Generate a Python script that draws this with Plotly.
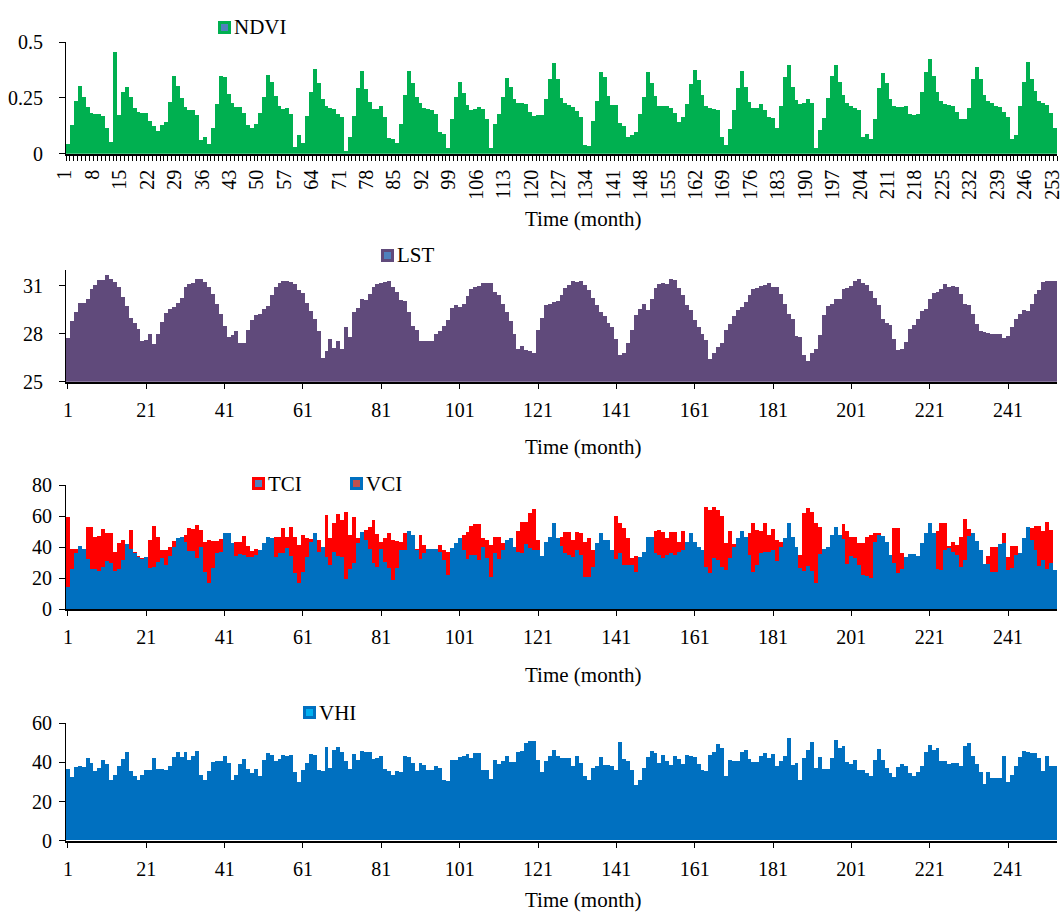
import plotly.graph_objects as go

months = list(range(1, 254))

ndvi = [
    0.043, 0.128, 0.237, 0.303, 0.252, 0.207, 0.180, 0.178, 0.176, 0.168,
    0.116, 0.054, 0.457, 0.175, 0.276, 0.297, 0.252, 0.206, 0.187, 0.180,
    0.182, 0.145, 0.124, 0.100, 0.130, 0.142, 0.233, 0.348, 0.303, 0.248,
    0.209, 0.196, 0.196, 0.173, 0.060, 0.076, 0.042, 0.113, 0.224, 0.349,
    0.342, 0.267, 0.228, 0.210, 0.210, 0.180, 0.130, 0.116, 0.134, 0.180,
    0.255, 0.354, 0.322, 0.260, 0.213, 0.200, 0.203, 0.176, 0.031, 0.085,
    0.046, 0.168, 0.275, 0.378, 0.315, 0.245, 0.213, 0.203, 0.199, 0.176,
    0.166, 0.013, 0.075, 0.168, 0.294, 0.370, 0.288, 0.230, 0.200, 0.200,
    0.213, 0.163, 0.070, 0.066, 0.046, 0.133, 0.263, 0.370, 0.315, 0.255,
    0.228, 0.203, 0.199, 0.196, 0.178, 0.099, 0.088, 0.024, 0.155, 0.252,
    0.319, 0.270, 0.216, 0.196, 0.199, 0.210, 0.199, 0.155, 0.027, 0.133,
    0.178, 0.252, 0.337, 0.297, 0.246, 0.228, 0.228, 0.222, 0.185, 0.169,
    0.173, 0.172, 0.243, 0.334, 0.404, 0.336, 0.251, 0.225, 0.218, 0.207,
    0.193, 0.163, 0.037, 0.036, 0.146, 0.237, 0.366, 0.345, 0.258, 0.218,
    0.216, 0.139, 0.124, 0.073, 0.084, 0.099, 0.176, 0.255, 0.366, 0.315,
    0.260, 0.215, 0.213, 0.213, 0.206, 0.181, 0.140, 0.163, 0.222, 0.310,
    0.375, 0.330, 0.263, 0.213, 0.203, 0.199, 0.196, 0.076, 0.039, 0.112,
    0.196, 0.296, 0.370, 0.297, 0.233, 0.203, 0.206, 0.222, 0.196, 0.166,
    0.158, 0.116, 0.213, 0.345, 0.396, 0.297, 0.240, 0.221, 0.228, 0.243,
    0.225, 0.027, 0.106, 0.161, 0.251, 0.349, 0.396, 0.322, 0.263, 0.225,
    0.213, 0.206, 0.196, 0.076, 0.087, 0.067, 0.155, 0.296, 0.363, 0.315,
    0.243, 0.215, 0.210, 0.210, 0.213, 0.178, 0.175, 0.176, 0.275, 0.367,
    0.422, 0.348, 0.275, 0.237, 0.221, 0.219, 0.213, 0.188, 0.154, 0.155,
    0.206, 0.333, 0.390, 0.333, 0.263, 0.236, 0.225, 0.213, 0.210, 0.188,
    0.166, 0.064, 0.084, 0.213, 0.319, 0.409, 0.333, 0.281, 0.236, 0.225,
    0.218, 0.184, 0.116,
]

lst = [
    27.71, 28.81, 29.38, 29.96, 29.96, 30.21, 30.83, 31.08, 31.35, 31.35,
    31.71, 31.42, 31.25, 30.94, 30.31, 29.75, 29.02, 28.71, 28.33, 27.56,
    27.60, 27.98, 27.35, 27.98, 28.75, 29.31, 29.58, 29.69, 29.94, 30.27,
    30.94, 31.15, 31.21, 31.46, 31.42, 31.25, 30.94, 30.52, 29.90, 29.23,
    28.48, 27.81, 27.92, 28.19, 27.44, 27.44, 28.23, 28.85, 29.17, 29.23,
    29.58, 29.75, 30.42, 30.94, 31.19, 31.31, 31.31, 31.25, 31.15, 30.77,
    30.58, 29.94, 29.44, 28.96, 28.19, 26.46, 26.92, 27.65, 27.13, 27.54,
    27.02, 28.44, 27.81, 29.38, 29.63, 30.21, 30.10, 30.52, 30.94, 31.10,
    31.21, 31.25, 31.29, 30.94, 30.63, 30.15, 30.06, 29.38, 28.48, 28.27,
    27.56, 27.56, 27.54, 27.56, 27.98, 28.19, 28.50, 28.85, 29.65, 29.79,
    29.69, 29.90, 30.35, 30.79, 30.94, 30.98, 31.19, 31.19, 31.19, 30.63,
    30.42, 29.90, 29.38, 28.81, 28.02, 27.02, 27.23, 26.98, 26.92, 26.77,
    28.27, 29.02, 29.79, 29.90, 30.00, 30.06, 30.42, 30.90, 31.04, 31.31,
    31.25, 31.31, 31.04, 30.73, 30.27, 29.79, 29.38, 29.10, 28.69, 28.40,
    27.65, 26.67, 26.81, 27.44, 28.27, 29.17, 29.58, 29.85, 29.48, 30.21,
    30.90, 31.10, 31.19, 31.15, 31.42, 31.35, 30.90, 30.42, 29.79, 29.48,
    28.85, 28.40, 27.98, 27.60, 26.42, 26.77, 27.19, 27.40, 28.25, 28.60,
    29.10, 29.50, 29.69, 30.00, 30.42, 30.83, 30.90, 30.98, 31.04, 31.19,
    30.94, 30.94, 30.48, 29.90, 29.23, 28.92, 27.85, 27.81, 26.67, 26.31,
    26.81, 27.08, 27.92, 29.17, 29.73, 29.90, 30.21, 30.21, 30.83, 30.90,
    30.98, 31.31, 31.42, 31.19, 31.08, 30.69, 30.27, 29.79, 28.96, 28.65,
    28.54, 27.65, 26.98, 27.08, 27.50, 28.33, 28.54, 28.92, 29.42, 29.58,
    30.21, 30.56, 30.63, 30.83, 31.15, 30.94, 31.00, 30.94, 30.52, 29.90,
    29.79, 29.27, 28.60, 28.19, 28.13, 28.06, 28.02, 27.98, 27.98, 27.77,
    27.85, 28.40, 28.90, 29.23, 29.48, 29.42, 29.85, 30.48, 30.77, 31.25,
    31.31, 31.31, 31.31,
]

tci = [
    59.6, 38.8, 38.8, 37.0, 35.0, 52.8, 53.2, 46.8, 47.2, 51.5,
    48.9, 48.9, 37.1, 42.5, 44.6, 40.0, 51.0, 37.1, 34.3, 32.8,
    30.0, 44.6, 53.6, 46.8, 38.2, 38.2, 39.9, 44.0, 42.0, 44.0,
    47.8, 52.1, 51.5, 54.3, 51.0, 43.5, 44.6, 44.2, 44.2, 45.0,
    44.0, 44.0, 38.0, 43.5, 43.5, 47.4, 40.8, 37.8, 38.8, 34.0,
    38.0, 42.0, 41.0, 46.8, 46.8, 52.1, 46.8, 52.8, 46.8, 41.4,
    47.8, 45.7, 45.0, 44.0, 44.6, 36.0, 60.7, 45.7, 55.3, 61.3,
    57.5, 62.8, 47.8, 59.6, 45.7, 46.0, 51.0, 52.8, 57.5, 48.5,
    43.5, 45.7, 48.9, 44.6, 44.2, 43.5, 48.9, 46.0, 44.0, 38.5,
    47.8, 41.4, 35.0, 35.0, 35.0, 41.4, 38.2, 37.1, 35.0, 38.0,
    41.0, 47.8, 50.0, 53.6, 54.9, 54.9, 45.7, 44.6, 41.4, 46.8,
    46.8, 42.9, 40.0, 41.0, 36.0, 50.6, 56.4, 56.4, 61.8, 64.4,
    44.6, 30.0, 39.0, 42.0, 50.0, 41.0, 46.8, 50.0, 50.0, 44.6,
    50.0, 48.9, 43.5, 45.7, 38.2, 38.0, 44.0, 40.0, 40.0, 36.0,
    60.1, 55.8, 52.1, 45.7, 32.8, 34.3, 29.0, 33.0, 42.0, 42.0,
    50.6, 51.1, 50.0, 45.7, 50.0, 50.0, 43.5, 50.6, 39.0, 45.0,
    39.0, 36.0, 34.0, 65.6, 63.9, 65.6, 63.9, 60.0, 42.5, 50.6,
    42.0, 42.0, 46.0, 42.0, 48.9, 55.8, 51.1, 50.6, 55.3, 47.8,
    51.5, 44.6, 43.5, 42.0, 50.0, 43.0, 36.0, 35.0, 61.8, 65.0,
    62.8, 55.8, 52.8, 35.0, 36.0, 44.0, 49.0, 44.0, 54.9, 50.6,
    46.8, 46.8, 42.9, 42.9, 46.8, 47.8, 49.3, 49.3, 44.0, 40.0,
    31.0, 52.1, 52.1, 36.0, 30.0, 31.0, 31.0, 30.0, 38.0, 45.0,
    50.0, 45.0, 50.6, 55.8, 55.8, 40.8, 43.5, 41.4, 46.8, 57.9,
    51.5, 45.0, 40.0, 34.0, 26.0, 34.3, 40.3, 40.3, 36.8, 48.9,
    33.5, 40.8, 40.8, 32.0, 41.0, 48.0, 52.1, 53.6, 53.6, 50.6,
    56.4, 51.1, 24.0,
]

vci = [
    14.2, 25.7, 36.0, 40.8, 38.6, 32.2, 25.7, 25.7, 24.9, 27.0,
    31.1, 29.6, 24.9, 25.7, 31.7, 42.0, 38.6, 36.0, 33.5, 32.2,
    33.5, 26.4, 27.5, 30.7, 33.2, 28.5, 34.3, 40.0, 46.0, 46.8,
    43.5, 37.8, 37.8, 32.8, 39.9, 24.2, 16.7, 26.4, 36.0, 37.1,
    48.9, 48.9, 42.9, 34.3, 35.6, 35.0, 33.5, 33.5, 35.0, 38.2,
    42.9, 46.8, 45.7, 33.5, 36.0, 36.0, 39.3, 34.3, 23.2, 16.7,
    24.2, 33.5, 43.5, 48.9, 37.1, 39.9, 33.5, 28.5, 37.1, 34.3,
    33.5, 19.3, 25.7, 29.6, 42.5, 50.0, 44.6, 38.6, 29.6, 27.5,
    38.6, 30.7, 26.4, 18.9, 26.8, 38.2, 38.2, 50.6, 47.8, 38.2,
    32.2, 36.0, 38.6, 38.6, 38.6, 37.1, 31.7, 22.1, 39.3, 42.5,
    45.7, 38.2, 32.2, 35.0, 35.0, 31.7, 40.3, 32.8, 20.6, 36.5,
    32.2, 38.2, 44.6, 45.7, 39.9, 37.1, 36.5, 42.0, 39.3, 38.2,
    38.2, 34.3, 43.5, 46.8, 55.8, 45.7, 40.8, 36.0, 35.0, 33.5,
    38.2, 35.0, 21.0, 21.0, 27.5, 42.9, 49.3, 44.6, 44.6, 38.2,
    32.2, 36.0, 28.5, 28.5, 28.5, 24.2, 33.5, 37.1, 46.8, 46.8,
    36.0, 35.0, 32.8, 35.0, 36.5, 35.0, 37.1, 38.2, 43.5, 49.3,
    43.5, 40.3, 38.2, 27.5, 23.2, 32.8, 31.7, 27.0, 25.0, 32.8,
    40.0, 46.0, 50.6, 46.8, 35.0, 24.2, 28.5, 36.0, 37.1, 37.1,
    38.2, 31.3, 39.9, 45.7, 55.8, 46.8, 39.9, 26.4, 24.9, 27.9,
    24.9, 17.2, 35.6, 38.6, 39.9, 47.8, 53.2, 47.8, 45.0, 29.2,
    34.3, 32.8, 28.5, 22.1, 21.5, 19.9, 43.5, 47.8, 47.2, 43.5,
    35.0, 29.6, 23.2, 25.7, 33.5, 35.6, 35.6, 34.3, 42.9, 49.3,
    55.8, 49.3, 25.7, 25.3, 38.2, 39.3, 37.1, 35.0, 27.5, 31.7,
    47.2, 49.3, 44.2, 38.2, 29.2, 29.2, 24.2, 24.2, 42.0, 42.9,
    25.3, 26.4, 35.0, 36.0, 45.7, 53.2, 44.6, 38.2, 27.9, 31.7,
    25.7, 29.9, 25.5,
]

vhi = [
    36.7, 32.4, 37.3, 37.8, 37.5, 42.1, 39.6, 35.6, 37.0, 41.3,
    39.2, 30.7, 33.6, 37.8, 41.6, 45.0, 35.6, 32.7, 31.0, 33.2,
    36.1, 35.8, 42.1, 36.5, 36.5, 35.8, 37.8, 42.5, 45.0, 42.6,
    45.0, 41.3, 43.3, 45.5, 33.6, 30.7, 35.3, 39.9, 40.7, 40.7,
    43.3, 39.6, 31.0, 33.6, 39.0, 41.8, 36.5, 34.4, 36.7, 32.7,
    41.3, 44.7, 43.8, 40.4, 41.6, 43.8, 43.3, 43.8, 34.8, 29.7,
    35.8, 39.6, 44.3, 43.8, 35.8, 35.3, 47.7, 37.0, 46.0, 47.6,
    45.0, 40.4, 36.7, 44.3, 40.9, 45.9, 45.2, 45.2, 41.6, 42.1,
    43.0, 36.5, 35.6, 33.6, 35.3, 35.0, 43.0, 42.6, 39.6, 35.3,
    39.6, 38.4, 36.1, 36.1, 38.2, 37.0, 31.0, 30.2, 40.9, 41.3,
    42.6, 43.0, 44.2, 42.1, 44.7, 44.7, 36.1, 36.1, 31.4, 41.3,
    39.2, 40.4, 43.0, 40.1, 40.1, 45.0, 45.5, 49.8, 50.6, 50.6,
    41.3, 34.8, 40.4, 43.3, 46.0, 43.0, 42.1, 42.1, 42.1, 37.8,
    43.0, 39.6, 32.7, 31.0, 37.0, 37.8, 42.6, 38.7, 38.7, 37.8,
    36.1, 50.1, 41.6, 40.4, 35.8, 28.5, 31.0, 37.0, 42.6, 45.9,
    44.7, 39.6, 43.8, 40.4, 38.7, 43.0, 41.6, 39.2, 43.5, 43.0,
    42.6, 39.0, 35.8, 35.3, 43.8, 45.0, 49.3, 47.2, 32.7, 41.3,
    40.4, 40.4, 45.0, 46.0, 41.6, 40.1, 40.1, 43.0, 44.7, 42.1,
    44.3, 37.8, 40.4, 43.0, 52.3, 38.7, 39.6, 31.0, 42.1, 46.4,
    50.3, 37.0, 42.5, 36.7, 36.7, 42.1, 51.2, 47.2, 48.1, 40.1,
    39.0, 40.9, 35.8, 35.8, 34.4, 32.7, 41.3, 46.7, 40.9, 37.0,
    34.4, 32.4, 37.5, 39.2, 38.2, 34.4, 33.1, 34.8, 38.2, 45.2,
    48.9, 46.4, 47.2, 40.4, 40.4, 39.0, 39.6, 39.6, 37.8, 48.4,
    49.8, 43.0, 39.2, 34.8, 28.8, 35.0, 31.9, 31.9, 31.9, 43.3,
    29.7, 33.6, 37.8, 42.5, 45.5, 45.0, 44.7, 44.7, 42.1, 35.6,
    43.0, 37.8, 37.8,
]

ndvi_ticks = list(range(1, 254, 7))
other_ticks = list(range(1, 254, 20))

W, H = 1064, 912
FONT = "Liberation Serif, Times New Roman, serif"
GREEN = "#00B050"
PURPLE = "#604A7B"
RED = "#FF0000"
BLUE = "#0070C0"


def px(x):
    return x / W


def py(y):
    return 1 - y / H


fig = go.Figure()
fig.add_trace(go.Bar(x=months, y=ndvi, name="NDVI", xaxis="x", yaxis="y",
                     marker=dict(color=GREEN, line=dict(width=0))))
fig.add_trace(go.Bar(x=months, y=lst, name="LST", xaxis="x2", yaxis="y2", base=0,
                     marker=dict(color=PURPLE, line=dict(width=0))))
fig.add_trace(go.Bar(x=months, y=tci, name="TCI", xaxis="x3", yaxis="y3",
                     marker=dict(color=RED, line=dict(width=0))))
fig.add_trace(go.Bar(x=months, y=vci, name="VCI", xaxis="x3", yaxis="y3",
                     marker=dict(color=BLUE, line=dict(width=0))))
fig.add_trace(go.Bar(x=months, y=vhi, name="VHI", xaxis="x4", yaxis="y4",
                     marker=dict(color=BLUE, line=dict(width=0))))

xdom = [px(66), px(1057)]
tickfont = dict(family=FONT, size=20, color="black")


def xaxis_common(anchor):
    return dict(domain=xdom, anchor=anchor, range=[0.5, 253.5], showgrid=False,
                zeroline=False, showline=True, linecolor="black", linewidth=2,
                tickfont=tickfont, automargin=False, ticklabeloverflow="allow")


def yaxis_common(anchor, top, bottom, rng, vals, texts, standoff):
    return dict(domain=[py(bottom), py(top)], anchor=anchor, range=rng,
                tickmode="array", tickvals=vals, ticktext=texts, ticks="outside",
                ticklen=6, tickcolor="black", showline=True, linecolor="black",
                linewidth=1, showgrid=False, zeroline=False, tickfont=tickfont,
                ticklabelstandoff=standoff, automargin=False)


x1 = xaxis_common("y")
x1.update(tickmode="array", tickvals=ndvi_ticks, ticktext=[str(v) for v in ndvi_ticks],
          tickangle=-90, ticks="", ticklabelstandoff=6, ticklabelshift=-3,
          minor=dict(ticks="outside", ticklen=5, tick0=0.5, dtick=1,
                     tickcolor="black", tickwidth=1))
others = {}
for name, anc in (("xaxis2", "y2"), ("xaxis3", "y3"), ("xaxis4", "y4")):
    a = xaxis_common(anc)
    a.update(tickmode="array", tickvals=other_ticks, ticktext=[str(v) for v in other_ticks],
             ticks="outside", ticklen=5, tickcolor="black", ticklabelstandoff=4)
    others[name] = a

fig.update_layout(
    width=W, height=H,
    margin=dict(l=0, r=0, t=0, b=0, autoexpand=False),
    paper_bgcolor="white", plot_bgcolor="white",
    barmode="overlay", bargap=0, showlegend=False,
    font=dict(family=FONT, size=20, color="black"),
    xaxis=x1, **others,
    yaxis=yaxis_common("x", 42, 153.7, [0, 0.5], [0, 0.25, 0.5], ["0", "0.25", "0.5"], 12),
    yaxis2=yaxis_common("x2", 270, 381.7, [25, 32], [25, 28, 31], ["25", "28", "31"], 12),
    yaxis3=yaxis_common("x3", 485, 609.3, [0, 80], [0, 20, 40, 60, 80],
                        ["0", "20", "40", "60", "80"], 3),
    yaxis4=yaxis_common("x4", 723.3, 840.7, [0, 60], [0, 20, 40, 60],
                        ["0", "20", "40", "60"], 3),
)

# legends (Excel-style swatches)
legends = [
    ("NDVI", 218, 21, GREEN, "#4F81BD"),
    ("LST", 381, 249, PURPLE, "#4F81BD"),
    ("TCI", 252, 477, RED, "#4F81BD"),
    ("VCI", 350, 477, BLUE, "#C0504D"),
    ("VHI", 303, 706, BLUE, "#00B0F0"),
]
for text, lx, ly, border, inner in legends:
    fig.add_shape(type="rect", xref="paper", yref="paper",
                  x0=px(lx + 1.5), x1=px(lx + 11.5), y0=py(ly + 11.5), y1=py(ly + 1.5),
                  line=dict(color=border, width=3), fillcolor=inner)
    fig.add_annotation(text=text, xref="paper", yref="paper", x=px(lx + 14), y=py(ly + 6.5),
                       xanchor="left", yanchor="middle", showarrow=False,
                       font=dict(family=FONT, size=21, color="black"))

for ty in (219, 447, 675, 900):
    fig.add_annotation(text="Time (month)", xref="paper", yref="paper", x=px(583), y=py(ty),
                       xanchor="center", yanchor="middle", showarrow=False,
                       font=dict(family=FONT, size=21, color="black"))

fig.write_html("out.html", config={"displayModeBar": False},
               post_script="document.body.style.margin='0';document.body.style.overflow='hidden';")
